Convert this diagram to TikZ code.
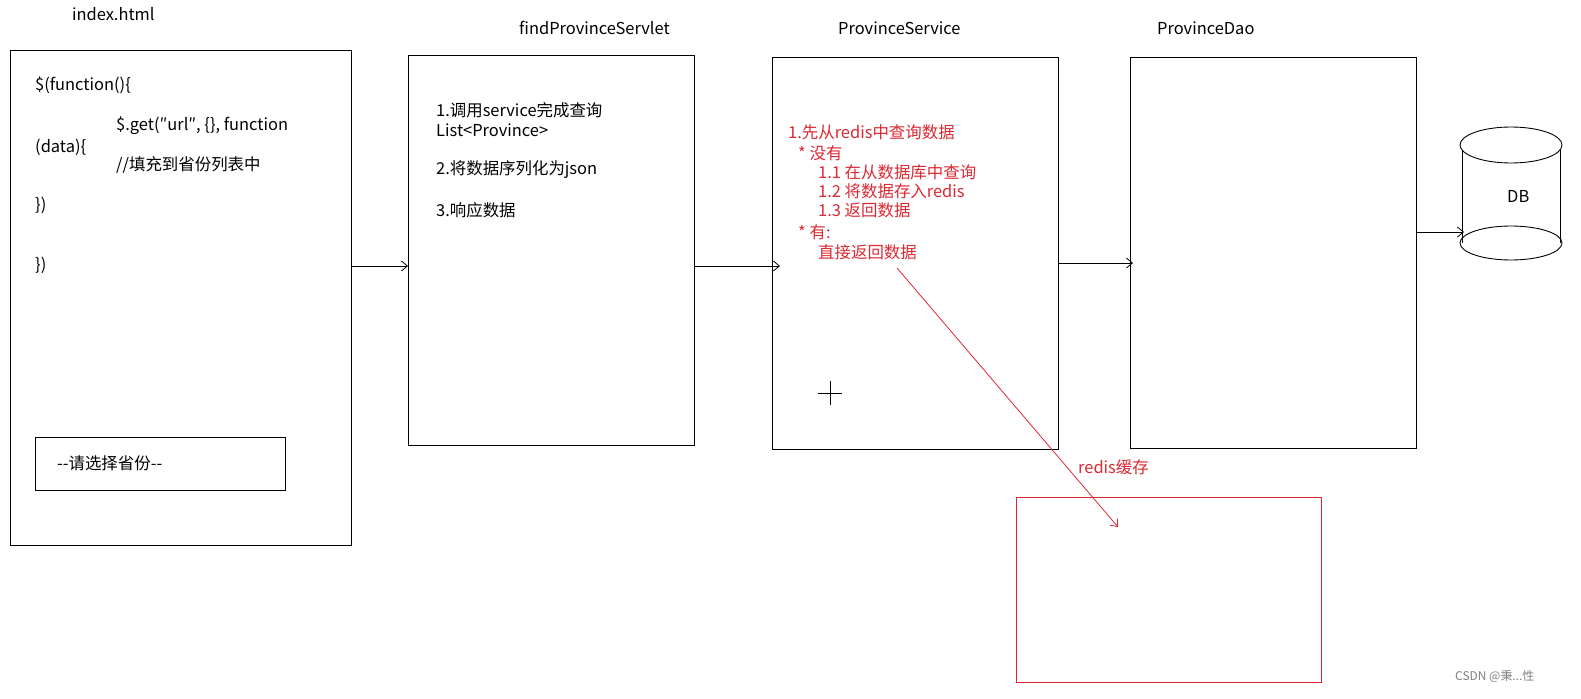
\documentclass[tikz,border=0pt]{standalone}
\usepackage{fontspec}
\setmainfont{Noto Sans CJK SC}
\usetikzlibrary{arrows.meta}
\definecolor{rd}{RGB}{220,40,50}
\begin{document}
\begin{tikzpicture}[x=1bp,y=-1bp,
  box/.style={draw,line width=0.9pt},
  t/.style={anchor=west,inner sep=0,font=\fontsize{16.5}{18}\selectfont},
  rt/.style={t,text=rd},
  conn/.style={draw,line width=0.8pt,-{Straight Barb[length=6pt,width=10pt]}}]
\useasboundingbox (0,0) rectangle (1581,699);
\node[box,minimum width=341bp,minimum height=495bp,anchor=north west,inner sep=0] (idx) at (10,50) {};
\node[box,minimum width=250bp,minimum height=53bp,anchor=north west,inner sep=0] (sel) at (35,437) {};
\node[t] (selt) at (57,463) {{-}{-}请选择省份{-}{-}};
\node[box,minimum width=286bp,minimum height=390bp,anchor=north west,inner sep=0] (srv) at (408,55) {};
\node[box,minimum width=286bp,minimum height=392bp,anchor=north west,inner sep=0] (svc) at (772,57) {};
\node[box,minimum width=286bp,minimum height=391bp,anchor=north west,inner sep=0] (dao) at (1130,57) {};
\node[draw=rd,line width=0.9pt,minimum width=305bp,minimum height=185bp,anchor=north west,inner sep=0] (red) at (1016,497) {};
\node[t] (l0) at (72,14) {index.html};
\node[t] (l1) at (519,28) {findProvinceServlet};
\node[t] (l2) at (838,28) {ProvinceService};
\node[t] (l3) at (1157,28) {ProvinceDao};
\node[rt] (l4) at (1078,467) {redis缓存};
% left code
\node[t] at (35,85) {\$(function()\{};
\node[t] at (116,126) {\$.get(″url″, \{\}, function};
\node[t] at (35,147) {(data)\{};
\node[t] at (116,165) {//填充到省份列表中};
\node[t] at (35,205) {\})};
\node[t] at (35,265) {\})};
% servlet
\node[t] at (436,110) {1.调用service完成查询};
\node[t] at (436,130) {List<Province>};
\node[t] at (436,170) {2.将数据序列化为json};
\node[t] at (436,210) {3.响应数据};
% service red
\node[rt] at (788,132) {1.先从redis中查询数据};
\node[rt] at (798,153) {* 没有};
\node[rt] at (818,172) {1.1 在从数据库中查询};
\node[rt] at (818,191) {1.2 将数据存入redis};
\node[rt] at (818,210) {1.3 返回数据};
\node[rt] at (798,232) {* 有:};
\node[rt] at (818,252) {直接返回数据};
% DB
\draw[line width=0.9pt] (1462,145) -- (1462,243) (1560,145) -- (1560,243);
\draw[line width=0.9pt,fill=white] (1511,145) ellipse (51 and 18);
\draw[line width=0.9pt] (1511,243) ellipse (51 and 17);
\node[t] (db) at (1507,196) {DB};
\coordinate (dbin) at (1464,232);
% connectors
\coordinate (a1) at (351,266); \coordinate (b1) at (408,266);
\coordinate (a2) at (694,266); \coordinate (b2) at (780,266);
\coordinate (a3) at (1058,263); \coordinate (b3) at (1133,263);
\coordinate (a4) at (1416,232);
\draw[conn] (a1) -- (b1);
\draw[conn] (a2) -- (b2);
\draw[conn] (a3) -- (b3);
\draw[conn] (a4) -- (dbin);
\coordinate (r1) at (897,268); \coordinate (r2) at (1118,527);
\draw[conn,draw=rd] (r1) -- (r2);
% crosshair
\draw[line width=0.8pt] (818,393) -- (842,393) (830,381) -- (830,405);
\node[t,text=gray,font=\fontsize{12}{14}\selectfont] (wm) at (1455,676) {CSDN @秉...性};
\end{tikzpicture}
\end{document}
